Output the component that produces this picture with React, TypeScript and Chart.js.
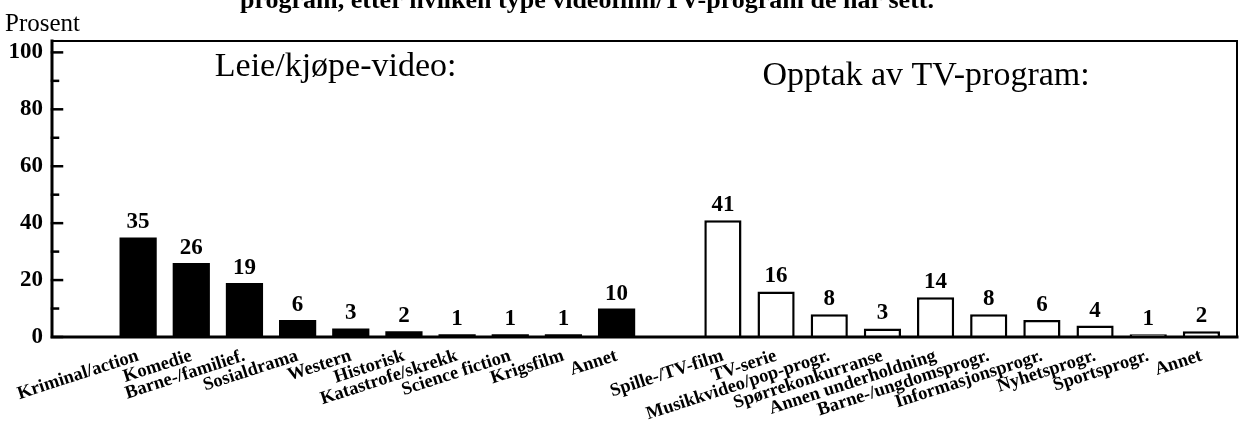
import React, { useEffect, useRef } from "react";
import { Chart, registerables } from "chart.js";

Chart.register(...registerables);

// ---- data ----
const leftCategories = [
  "Kriminal/action",
  "Komedie",
  "Barne-/familief.",
  "Sosialdrama",
  "Western",
  "Historisk",
  "Katastrofe/skrekk",
  "Science fiction",
  "Krigsfilm",
  "Annet",
];
const leftValues = [35, 26, 19, 6, 3, 2, 1, 1, 1, 10];

const rightCategories = [
  "Spille-/TV-film",
  "TV-serie",
  "Musikkvideo/pop-progr.",
  "Spørrekonkurranse",
  "Annen underholdning",
  "Barne-/ungdomsprogr.",
  "Informasjonsprogr.",
  "Nyhetsprogr.",
  "Sportsprogr.",
  "Annet",
];
const rightValues = [41, 16, 8, 3, 14, 8, 6, 4, 1, 2];

const yTickValues = [0, 20, 40, 60, 80, 100];
const yMinorTickValues = [10, 30, 50, 70, 90];
const groupTitles = ["Leie/kjøpe-video:", "Opptak av TV-program:"];
const yAxisTitle = "Prosent";
const captionText = "program, etter hvilken type videofilm/TV-program de har sett.";

// ---- layout helpers (category slots) ----
const GROUP_GAP = 1;
const leftPositions = leftCategories.map((_, i) => i);
const rightPositions = rightCategories.map((_, i) => leftCategories.length + GROUP_GAP + i);
const allPositions = [...leftPositions, ...rightPositions];
const allLabels = [...leftCategories, ...rightCategories];

const SERIF = "'Liberation Serif', 'Times New Roman', serif";

const decorPlugin = {
  id: "decor",
  afterDatasetsDraw(chart: any) {
    const { ctx } = chart;
    ctx.save();
    ctx.fillStyle = "#000";
    ctx.font = `bold 23px ${SERIF}`;
    ctx.textAlign = "center";
    ctx.textBaseline = "alphabetic";
    chart.data.datasets.forEach((ds: any, di: number) => {
      const meta = chart.getDatasetMeta(di);
      meta.data.forEach((el: any, i: number) => {
        const v = ds.data[i].y;
        ctx.fillText(String(v), el.x, el.y - 9);
      });
    });
    ctx.restore();
  },
  afterDraw(chart: any) {
    const { ctx, chartArea, scales } = chart;
    const y = scales.y;
    const { left, right, top, bottom } = chartArea;
    ctx.save();
    ctx.strokeStyle = "#000";
    ctx.lineCap = "square";
    // frame
    ctx.lineWidth = 2;
    ctx.beginPath();
    ctx.moveTo(left, top);
    ctx.lineTo(right, top);
    ctx.lineTo(right, bottom);
    ctx.stroke();
    ctx.lineWidth = 3;
    ctx.beginPath();
    ctx.moveTo(left, top);
    ctx.lineTo(left, bottom);
    ctx.lineTo(right, bottom);
    ctx.stroke();
    // inward ticks
    ctx.lineWidth = 2.5;
    yTickValues.forEach((v) => {
      const py = y.getPixelForValue(v);
      ctx.beginPath();
      ctx.moveTo(left, py);
      ctx.lineTo(left + 10, py);
      ctx.stroke();
    });
    yMinorTickValues.forEach((v) => {
      const py = y.getPixelForValue(v);
      ctx.beginPath();
      ctx.moveTo(left, py);
      ctx.lineTo(left + 6, py);
      ctx.stroke();
    });
    // texts
    ctx.fillStyle = "#000";
    ctx.textBaseline = "alphabetic";
    ctx.textAlign = "left";
    ctx.font = `25px ${SERIF}`;
    ctx.fillText(yAxisTitle, 5, 31);
    ctx.font = `34px ${SERIF}`;
    const w = right - left;
    ctx.fillText(groupTitles[0], left + 0.1374 * w, 76);
    ctx.fillText(groupTitles[1], left + 0.5995 * w, 85);
    ctx.font = `bold 26px ${SERIF}`;
    ctx.fillText(captionText, 240, 8);
    ctx.restore();
  },
};

export default function App() {
  const canvasRef = useRef<HTMLCanvasElement | null>(null);

  useEffect(() => {
    document.body.style.margin = "0";
    const canvas = canvasRef.current;
    if (!canvas) return;
    const chart = new Chart(canvas, {
      type: "bar",
      data: {
        datasets: [
          {
            label: "Leie/kjøpe-video",
            data: leftValues.map((v, i) => ({ x: leftPositions[i], y: v })),
            backgroundColor: "#000",
            borderWidth: 0,
            barPercentage: 0.7,
            categoryPercentage: 1,
            grouped: false,
          } as any,
          {
            label: "Opptak av TV-program",
            data: rightValues.map((v, i) => ({ x: rightPositions[i], y: v })),
            backgroundColor: "#fff",
            borderColor: "#000",
            borderWidth: 2.5,
            barPercentage: 0.7,
            categoryPercentage: 1,
            grouped: false,
          } as any,
        ],
      },
      options: {
        animation: false,
        responsive: false,
        devicePixelRatio: 1,
        layout: { autoPadding: false, padding: { left: 0, top: 41, right: 3, bottom: 0 } },
        plugins: {
          legend: { display: false },
          tooltip: { enabled: false },
          title: { display: false },
        },
        scales: {
          x: {
            type: "linear",
            offset: false,
            min: -1.62,
            max: 20.67,
            afterBuildTicks: (s: any) => {
              s.ticks = allPositions.map((v) => ({ value: v }));
            },
            afterFit: (s: any) => {
              s.height = 103;
            },
            grid: { display: false, drawTicks: false, offset: false },
            border: { display: false },
            ticks: {
              autoSkip: false,
              minRotation: 18,
              maxRotation: 18,
              padding: 8,
              color: "#000",
              font: { family: SERIF, size: 18.5, weight: "bold" },
              callback: (_v: any, index: number) => allLabels[index],
            },
          },
          y: {
            type: "linear",
            min: 0,
            max: 104,
            afterBuildTicks: (s: any) => {
              s.ticks = yTickValues.map((v) => ({ value: v }));
            },
            afterFit: (s: any) => {
              s.width = 52;
            },
            grid: { display: false, drawTicks: false },
            border: { display: false },
            ticks: {
              padding: 9,
              color: "#000",
              font: { family: SERIF, size: 23, weight: "bold" },
            },
          },
        },
      } as any,
      plugins: [decorPlugin],
    });
    return () => chart.destroy();
  }, []);

  return (
    <div style={{ width: 1240, height: 440, background: "#fff" }}>
      <canvas ref={canvasRef} width={1240} height={440} style={{ display: "block" }} />
    </div>
  );
}
